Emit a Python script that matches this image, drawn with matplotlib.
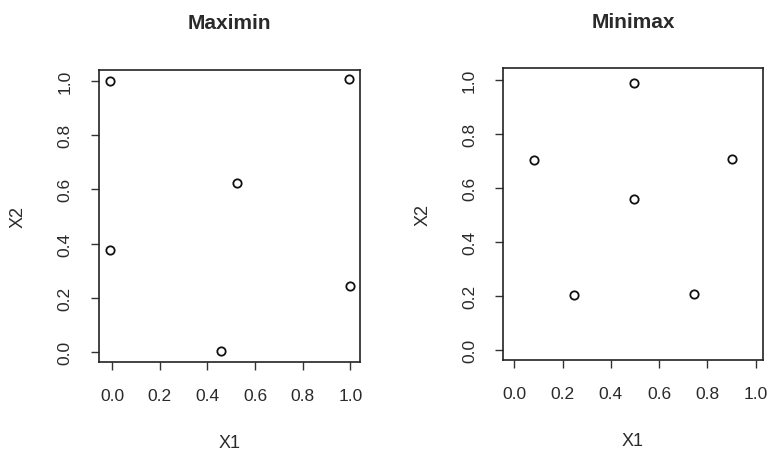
import matplotlib
matplotlib.use("Agg")
import matplotlib.pyplot as plt

plt.rcParams["font.family"] = ["Liberation Sans", "DejaVu Sans"]

# Maximin design points
maximin_x1 = [-0.01, -0.008, 0.455, 0.525, 0.996, 0.998]
maximin_x2 = [1.0, 0.377, 0.005, 0.622, 1.005, 0.245]

# Minimax design points
minimax_x1 = [0.082, 0.497, 0.497, 0.246, 0.743, 0.90]
minimax_x2 = [0.701, 0.987, 0.557, 0.204, 0.206, 0.705]

ticks = [0.0, 0.2, 0.4, 0.6, 0.8, 1.0]
tick_labels = ["0.0", "0.2", "0.4", "0.6", "0.8", "1.0"]

fig = plt.figure(figsize=(7.69, 4.52), dpi=100)
ax1 = fig.add_axes([0.1287, 0.1969, 0.3394, 0.646])
ax2 = fig.add_axes([0.6545, 0.202, 0.3373, 0.6447])

panels = [
    (ax1, maximin_x1, maximin_x2, "Maximin", (-0.055, 1.04), (-0.037, 1.04)),
    (ax2, minimax_x1, minimax_x2, "Minimax", (-0.046, 1.029), (-0.037, 1.042)),
]

txt = "#2a2a2a"
for ax, xs, ys, title, xlim, ylim in panels:
    ax.plot(xs, ys, "o", mfc="none", mec="#111111", ms=6, mew=1.3)
    ax.set_xlim(*xlim)
    ax.set_ylim(*ylim)
    ax.set_xticks(ticks)
    ax.set_xticklabels(tick_labels)
    ax.set_yticks(ticks)
    ax.set_yticklabels(tick_labels, rotation=90, va="center")
    ax.tick_params(direction="out", length=6, width=1, colors="#333333",
                   labelsize=12.5, labelcolor=txt, pad=13)
    for s in ax.spines.values():
        s.set_color("#222222")
        s.set_linewidth(1.2)
    ax.set_title(title, fontsize=15, fontweight="bold", color=txt, pad=30)
    ax.set_xlabel("X1", fontsize=13, color=txt, labelpad=22)
    ax.set_ylabel("X2", fontsize=13, color=txt, labelpad=22)

fig.savefig("out.png", dpi=100)
